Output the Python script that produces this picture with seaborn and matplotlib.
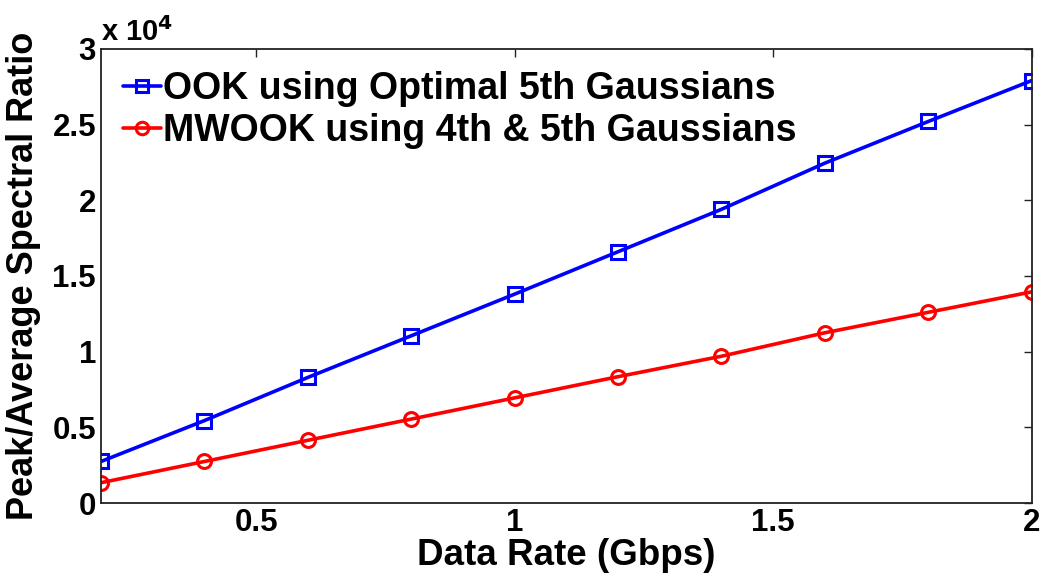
import matplotlib
matplotlib.use('Agg')
import pandas as pd
import matplotlib.pyplot as plt
import seaborn as sns
from matplotlib.ticker import FuncFormatter
from matplotlib.lines import Line2D

# Dữ liệu
data_rate = [0.2, 0.4, 0.6, 0.8, 1.0, 1.2, 1.4, 1.6, 1.8, 2.0]
ook = [2750, 5450, 8300, 11050, 13800, 16600, 19400, 22450, 25200, 27900]
mwook = [1350, 2750, 4150, 5550, 6950, 8350, 9700, 11250, 12600, 13950]
ook_label = 'OOK using Optimal 5th Gaussians'
mwook_label = 'MWOOK using 4th & 5th Gaussians'

df = pd.DataFrame({'rate': data_rate * 2,
                   'ratio': ook + mwook,
                   'scheme': [ook_label] * len(ook) + [mwook_label] * len(mwook)})

sns.set_style("white")
plt.rcParams['font.family'] = ['Liberation Sans', 'DejaVu Sans']
plt.rcParams['font.weight'] = 'bold'
plt.rcParams['text.color'] = 'black'
plt.rcParams['axes.labelcolor'] = 'black'
plt.rcParams['xtick.color'] = 'black'
plt.rcParams['ytick.color'] = 'black'

colors = {ook_label: '#0000ff', mwook_label: '#ff0000'}
markers = {ook_label: 's', mwook_label: 'o'}

fig = plt.figure(figsize=(10.41, 5.81), dpi=100)
ax = fig.add_axes([0.097, 0.134, 0.894, 0.782])

sns.lineplot(data=df, x='rate', y='ratio', hue='scheme', style='scheme',
             palette=colors, markers=markers, dashes=False,
             linewidth=2.6, markersize=10, markerfacecolor='none',
             markeredgewidth=2.2, legend=False, ax=ax)

for line, c in zip(ax.lines, [colors[ook_label], colors[mwook_label]]):
    line.set_markeredgecolor(c)

ax.set_xlim(0.2, 2)
ax.set_ylim(0, 30000)
ax.set_xticks([0.5, 1, 1.5, 2])
ax.set_xticklabels(['0.5', '1', '1.5', '2'])
ax.set_yticks([0, 5000, 10000, 15000, 20000, 25000, 30000])
ax.yaxis.set_major_formatter(FuncFormatter(lambda v, p: '%g' % (v / 1e4)))
ax.tick_params(direction='in', length=6, width=1, labelsize=22.5,
               top=True, right=True, color='#222222')
for lab in ax.get_xticklabels() + ax.get_yticklabels():
    lab.set_fontweight('bold')
for s in ax.spines.values():
    s.set_color('#222222')
    s.set_linewidth(1.3)

ax.text(0.0, 1.005, r'x 10$^{\mathbf{4}}$', transform=ax.transAxes,
        fontsize=21, fontweight='bold', ha='left', va='bottom')

ax.set_xlabel('Data Rate (Gbps)', fontsize=26.5, fontweight='bold', labelpad=0)
ax.set_ylabel('Peak/Average Spectral Ratio', fontsize=26, fontweight='bold', labelpad=8)

handles = [Line2D([], [], color=colors[k], marker=markers[k], markersize=9,
                  markerfacecolor='none', markeredgewidth=2.2, linewidth=2.6)
           for k in [ook_label, mwook_label]]
ax.legend(handles, [ook_label, mwook_label], loc='upper left', frameon=False,
          handlelength=1.0, handletextpad=0.05, borderaxespad=0.3,
          labelspacing=0.15, borderpad=0.3, prop={'weight': 'bold', 'size': 27})

plt.savefig('out.png', dpi=100)
